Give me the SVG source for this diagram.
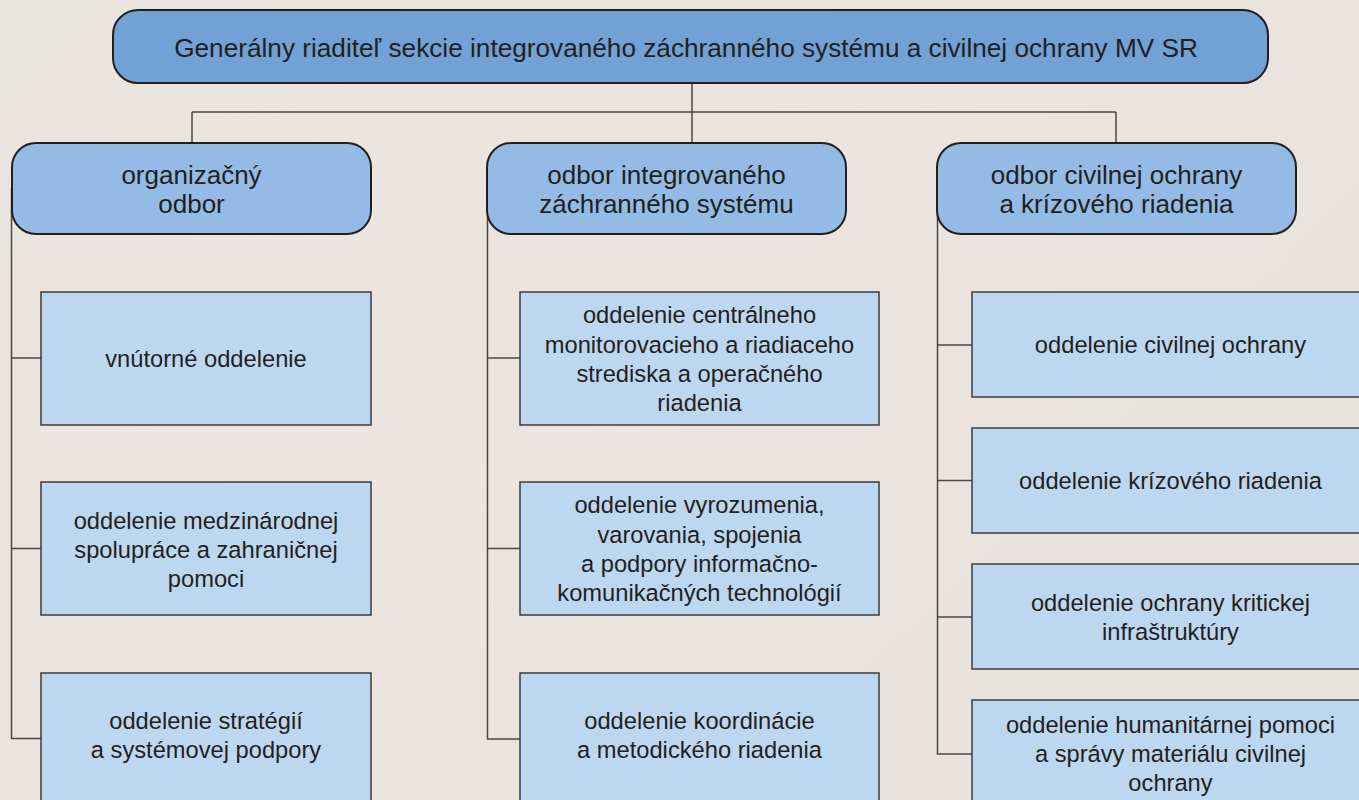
<svg xmlns="http://www.w3.org/2000/svg" width="1359" height="800" viewBox="0 0 1359 800">
<defs>
<linearGradient id="bg" x1="0" y1="0" x2="1" y2="0.6">
<stop offset="0" stop-color="#e9e5e0"/>
<stop offset="0.45" stop-color="#ede4df"/>
<stop offset="1" stop-color="#e8e3dd"/>
</linearGradient>
</defs>
<style>
text{font-family:"Liberation Sans",Arial,sans-serif;fill:#231f20;text-anchor:middle}
.top{fill:#72a1d5;stroke:#231f20;stroke-width:2}
.mid{fill:#94bbe5;stroke:#231f20;stroke-width:2}
.leaf{fill:#bdd7f0;stroke:#3d3b3c;stroke-width:1.5}
.t1{font-size:26.2px}
.t2{font-size:26px}
.t3{font-size:23.7px}
.conn{fill:none;stroke:#4a4748;stroke-width:1.5}
</style>
<rect width="1359" height="800" fill="url(#bg)"/>
<g id="connectors" class="conn">
<path d="M692 83V112M192 112H1116M192 112V143M692 112V143M1116 112V143"/>
<path d="M11.5 188V738.5H41M11.5 358H41M11.5 548.5H41"/>
<path d="M487.5 188V739H520M487.5 358H520M487.5 548.5H520"/>
<path d="M937.5 188V754H972M937.5 345H972M937.5 480.5H972M937.5 617H972"/>
</g>
<g id="n0"><rect class="top" x="113" y="10" width="1155" height="73" rx="25"/>
<text class="t1" x="686" y="56.5">Generálny riaditeľ sekcie integrovaného záchranného systému a civilnej ochrany MV SR</text></g>
<g id="n1"><rect class="mid" x="12" y="143" width="359" height="91" rx="24"/>
<text class="t2" x="191.5" y="184">organizačný</text><text class="t2" x="191.5" y="213">odbor</text></g>
<g id="n2"><rect class="mid" x="487" y="143" width="359" height="91" rx="24"/>
<text class="t2" x="666.5" y="184">odbor integrovaného</text><text class="t2" x="666.5" y="213">záchranného systému</text></g>
<g id="n3"><rect class="mid" x="937" y="143" width="359" height="91" rx="24"/>
<text class="t2" x="1116.5" y="184">odbor civilnej ochrany</text><text class="t2" x="1116.5" y="213">a krízového riadenia</text></g>
<g id="n4"><rect class="leaf" x="41" y="292" width="330" height="133"/>
<text class="t3" x="206" y="367">vnútorné oddelenie</text></g>
<g id="n5"><rect class="leaf" x="41" y="482" width="330" height="133"/>
<text class="t3" x="206" y="529">oddelenie medzinárodnej</text><text class="t3" x="206" y="558">spolupráce a zahraničnej</text><text class="t3" x="206" y="587">pomoci</text></g>
<g id="n6"><rect class="leaf" x="41" y="673" width="330" height="140"/>
<text class="t3" x="206" y="729">oddelenie stratégií</text><text class="t3" x="206" y="758">a systémovej podpory</text></g>
<g id="n7"><rect class="leaf" x="520" y="292" width="359" height="133"/>
<text class="t3" x="699.5" y="323">oddelenie centrálneho</text><text class="t3" x="699.5" y="352.5">monitorovacieho a riadiaceho</text><text class="t3" x="699.5" y="382">strediska a operačného</text><text class="t3" x="699.5" y="411">riadenia</text></g>
<g id="n8"><rect class="leaf" x="520" y="482" width="359" height="133"/>
<text class="t3" x="699.5" y="513">oddelenie vyrozumenia,</text><text class="t3" x="699.5" y="542.5">varovania, spojenia</text><text class="t3" x="699.5" y="572">a podpory informačno-</text><text class="t3" x="699.5" y="601">komunikačných technológií</text></g>
<g id="n9"><rect class="leaf" x="520" y="673" width="359" height="140"/>
<text class="t3" x="699.5" y="729">oddelenie koordinácie</text><text class="t3" x="699.5" y="758">a metodického riadenia</text></g>
<g id="n10"><rect class="leaf" x="972" y="292" width="397" height="105"/>
<text class="t3" x="1170.5" y="353">oddelenie civilnej ochrany</text></g>
<g id="n11"><rect class="leaf" x="972" y="428" width="397" height="105"/>
<text class="t3" x="1170.5" y="489">oddelenie krízového riadenia</text></g>
<g id="n12"><rect class="leaf" x="972" y="564" width="397" height="105"/>
<text class="t3" x="1170.5" y="611">oddelenie ochrany kritickej</text><text class="t3" x="1170.5" y="640">infraštruktúry</text></g>
<g id="n13"><rect class="leaf" x="972" y="700" width="397" height="110"/>
<text class="t3" x="1170.5" y="733">oddelenie humanitárnej pomoci</text><text class="t3" x="1170.5" y="762">a správy materiálu civilnej</text><text class="t3" x="1170.5" y="791">ochrany</text></g>
</svg>
